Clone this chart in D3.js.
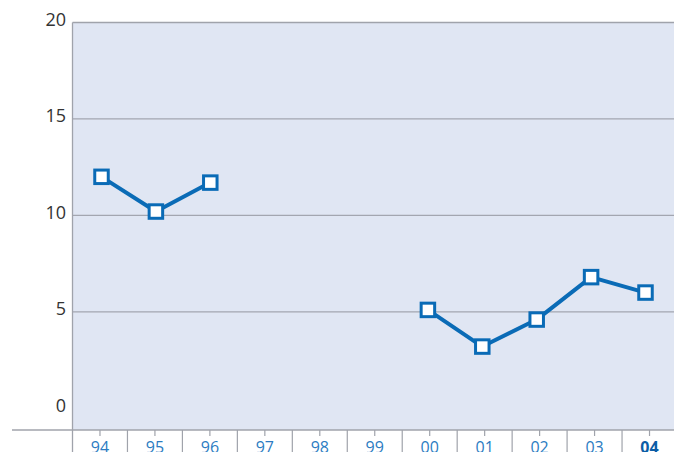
<!DOCTYPE html>
<html><head><meta charset="utf-8">
<script src="https://cdn.jsdelivr.net/npm/d3@7"></script>
<style>html,body{margin:0;padding:0;background:#fff;overflow:hidden}svg{display:block}</style>
</head><body>
<script>
const categories = ["94","95","96","97","98","99","00","01","02","03","04"];
const values = [12.0, 10.2, 11.7, null, null, null, 5.1, 3.2, 4.6, 6.8, 6.0];
const yTicks = [0, 5, 10, 15, 20];
const highlight = "04";

const W = 674, H = 452;
const svg = d3.select("body").append("svg").attr("width", W).attr("height", H);
const font = "'Open Sans', sans-serif";

const plotLeft = 72.5, plotRight = 677, plotTop = 22.5, plotBottom = 430;
const y = d3.scaleLinear().domain([0, 20]).range([408.3, 22.5]);
const xb = d3.scaleBand().domain(categories).range([plotLeft, plotRight]);
const xp = d3.scalePoint().domain(categories).range([101.5, 645.5]);

// plot background
svg.append("rect").attr("x", plotLeft).attr("y", plotTop)
  .attr("width", plotRight - plotLeft).attr("height", plotBottom - plotTop)
  .attr("fill", "#e0e6f3");

// gridlines
svg.append("g").selectAll("line").data(yTicks.filter(t => t > 0 && t < 20)).join("line")
  .attr("x1", plotLeft).attr("x2", plotRight)
  .attr("y1", d => y(d)).attr("y2", d => y(d))
  .attr("stroke", "#a3a6b0").attr("stroke-width", 1.2);

// top border
svg.append("line").attr("x1", plotLeft).attr("x2", plotRight)
  .attr("y1", plotTop).attr("y2", plotTop)
  .attr("stroke", "#a0a3ab").attr("stroke-width", 1.5);
// left border
svg.append("line").attr("x1", plotLeft).attr("x2", plotLeft)
  .attr("y1", plotTop).attr("y2", H)
  .attr("stroke", "#a0a3ab").attr("stroke-width", 1.3);

// y labels
svg.append("g").selectAll("text").data(yTicks).join("text")
  .attr("x", 66).attr("y", d => y(d) - 3)
  .attr("dy", "0.35em")
  .attr("text-anchor", "end")
  .attr("font-family", font).attr("font-size", 18)
  .attr("fill", "#333")
  .text(d => d);

// x axis baseline
svg.append("line").attr("x1", 12).attr("x2", W)
  .attr("y1", plotBottom).attr("y2", plotBottom)
  .attr("stroke", "#a0a3ab").attr("stroke-width", 1.5);

// band separators
svg.append("g").selectAll("line").data(categories.slice(1)).join("line")
  .attr("x1", d => xb(d)).attr("x2", d => xb(d))
  .attr("y1", plotBottom).attr("y2", H)
  .attr("stroke", "#a0a3ab").attr("stroke-width", 1.2);

// ticks
svg.append("g").selectAll("line").data(categories).join("line")
  .attr("x1", d => xb(d) + xb.bandwidth() / 2).attr("x2", d => xb(d) + xb.bandwidth() / 2)
  .attr("y1", plotBottom).attr("y2", plotBottom + 6)
  .attr("stroke", "#a0a3ab").attr("stroke-width", 1.2);

// x labels
svg.append("g").selectAll("text").data(categories).join("text")
  .attr("x", d => xb(d) + xb.bandwidth() / 2).attr("y", 452.5)
  .attr("text-anchor", "middle")
  .attr("font-family", font).attr("font-size", 16)
  .attr("font-weight", d => d === highlight ? "bold" : "normal")
  .attr("fill", d => d === highlight ? "#0b5da6" : "#2b7cc2")
  .text(d => d);

// line
const data = categories.map((c, i) => ({c, v: values[i]}));
const line = d3.line().defined(d => d.v != null).x(d => xp(d.c)).y(d => y(d.v));
svg.append("path").datum(data).attr("d", line)
  .attr("fill", "none").attr("stroke", "#0a6bb6").attr("stroke-width", 4)
  .attr("stroke-linejoin", "round");

// markers
const s = 13.5;
svg.append("g").selectAll("rect").data(data.filter(d => d.v != null)).join("rect")
  .attr("x", d => xp(d.c) - s / 2).attr("y", d => y(d.v) - s / 2)
  .attr("width", s).attr("height", s)
  .attr("fill", "#fff").attr("stroke", "#0a6bb6").attr("stroke-width", 3);
</script>
</body></html>
